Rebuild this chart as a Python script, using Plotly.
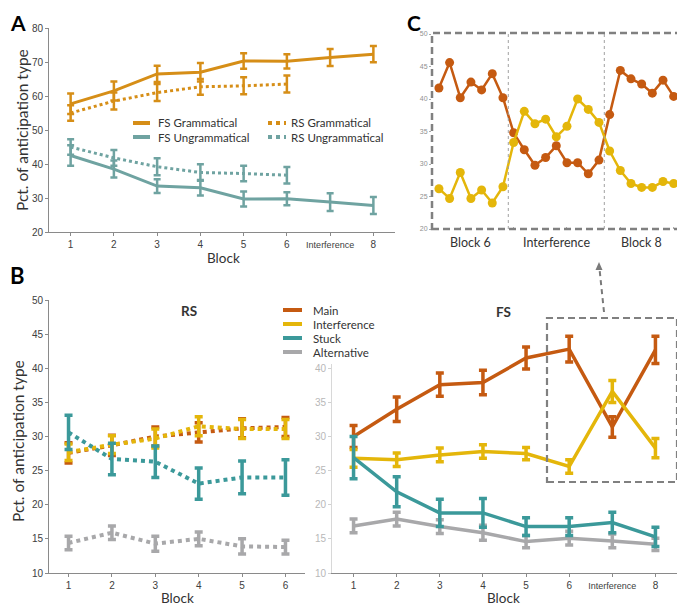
import plotly.graph_objects as go

# Page is 685x610; the html body has an 8px margin, so the figure itself
# is drawn 8px in from the top-left corner of the page.
W, H = 685, 610
OFF = 8
FW, FH = W - OFF, H - OFF


def px(x):
    return (x - OFF) / FW


def py(y):
    return 1 - (y - OFF) / FH


# ---------------- DATA ----------------
# Panel A
a_blocks = ["1", "2", "3", "4", "5", "6", "Interference", "8"]
a_rs_blocks = ["1", "2", "3", "4", "5", "6"]
a_series_names = ["FS Grammatical", "FS Ungrammatical", "RS Grammatical", "RS Ungrammatical"]
a_fs_gram = [57.7, 61.5, 66.5, 67.0, 70.3, 70.2, 71.3, 72.3]
a_fs_gram_err = [3.0, 2.8, 2.4, 2.7, 2.3, 2.1, 2.5, 2.4]
a_fs_ungram = [42.5, 38.5, 33.5, 33.0, 29.7, 29.8, 28.8, 27.8]
a_fs_ungram_err = [3.0, 2.5, 2.0, 2.3, 2.2, 1.9, 2.6, 2.5]
a_rs_gram = [55.0, 58.5, 61.0, 62.7, 63.0, 63.5]
a_rs_gram_err = [2.3, 2.5, 2.5, 2.3, 2.5, 2.5]
a_rs_ungram = [45.0, 41.8, 39.2, 37.5, 37.2, 36.7]
a_rs_ungram_err = [2.3, 2.3, 2.5, 2.4, 2.3, 2.4]
a_yticks = [20, 30, 40, 50, 60, 70, 80]

# Panel B
b_types = ["Main", "Interference", "Stuck", "Alternative"]
rs_blocks = ["1", "2", "3", "4", "5", "6"]
fs_blocks = ["1", "2", "3", "4", "5", "6", "Interference", "8"]

rs_main = [27.6, 28.7, 30.0, 30.6, 31.2, 31.4]
rs_main_err = [1.5, 1.5, 1.4, 1.4, 1.4, 1.4]
rs_interf = [27.7, 28.8, 29.7, 31.5, 31.1, 31.1]
rs_interf_err = [1.2, 1.3, 1.4, 1.4, 1.4, 1.4]
rs_stuck = [30.6, 26.7, 26.3, 23.1, 24.0, 24.0]
rs_stuck_err = [2.5, 2.3, 2.3, 2.3, 2.4, 2.6]
rs_alt = [14.4, 15.9, 14.3, 15.0, 13.9, 13.8]
rs_alt_err = [1.0, 1.0, 1.1, 1.0, 1.1, 1.0]

fs_main = [30.0, 34.0, 37.6, 37.9, 41.5, 42.8, 31.4, 42.7]
fs_main_err = [1.6, 1.8, 1.7, 1.8, 1.6, 1.9, 1.5, 2.0]
fs_interf = [26.8, 26.6, 27.3, 27.8, 27.5, 25.6, 36.6, 28.3]
fs_interf_err = [1.3, 1.0, 1.0, 1.0, 0.9, 1.0, 1.6, 1.4]
fs_stuck = [26.9, 21.9, 18.8, 18.8, 16.8, 16.8, 17.4, 15.3]
fs_stuck_err = [3.1, 2.2, 2.0, 2.1, 1.3, 1.3, 1.5, 1.4]
fs_alt = [16.9, 17.9, 16.8, 15.9, 14.6, 15.1, 14.7, 14.2]
fs_alt_err = [1.0, 1.0, 1.0, 1.1, 0.9, 1.0, 1.0, 0.9]
b_yticks = [10, 15, 20, 25, 30, 35, 40, 45, 50]
fs_yticks_visible = [10, 15, 20, 25, 30, 35, 40]

# Panel C
c_segments = ["Block 6", "Interference", "Block 8"]
c_segment_sizes = [7, 9, 7]
c_main = [41.7, 45.6, 40.2, 42.6, 41.4, 43.9, 40.2,
          34.8, 32.2, 29.8, 31.0, 32.8, 30.2, 30.2, 28.5, 30.6,
          37.6, 44.4, 43.1, 42.3, 40.9, 42.9, 40.4]
c_interf = [26.2, 24.7, 28.7, 24.7, 26.0, 24.0, 26.5,
            33.3, 38.1, 36.2, 36.9, 34.2, 35.8, 40.0, 38.4, 36.4,
            32.0, 29.0, 27.0, 26.4, 26.4, 27.3, 27.0]
c_yticks = [20, 25, 30, 35, 40, 45, 50]
c_xticks = [3, 8, 13, 18, 23]

# ---------------- STYLE ----------------
ORANGE_A = "#D68E17"
TEAL_A = "#6FA3A1"
COL_MAIN = "#C55A11"
COL_INT = "#E4B60A"
COL_STUCK = "#3B999A"
COL_ALT = "#A8A8AA"
AXC = "#8A8A8A"
TICKC = "#404040"
TXT = "#333333"
LBL_FONT = "Lato"
TICK_FONT = "Liberation Sans"

fig = go.Figure()


def add_series(x, y, err, color, dash, width, xa, ya, thick=2.5, cap=3.5):
    fig.add_trace(go.Scatter(
        x=x, y=y, mode="lines",
        line=dict(color=color, width=width, dash=dash),
        error_y=dict(type="data", array=err, color=color, thickness=thick, width=cap),
        xaxis=xa, yaxis=ya, showlegend=False, cliponaxis=False,
    ))


# Panel A traces
add_series(a_rs_blocks, a_rs_gram, a_rs_gram_err, ORANGE_A, "dot", 3, "x", "y")
add_series(a_rs_blocks, a_rs_ungram, a_rs_ungram_err, TEAL_A, "dot", 3, "x", "y")
add_series(a_blocks, a_fs_gram, a_fs_gram_err, ORANGE_A, "solid", 3, "x", "y")
add_series(a_blocks, a_fs_ungram, a_fs_ungram_err, TEAL_A, "solid", 3, "x", "y")

# Panel B - RS (dotted)
add_series(rs_blocks, rs_alt, rs_alt_err, COL_ALT, "dot", 4, "x2", "y2", 3.5, 4)
add_series(rs_blocks, rs_main, rs_main_err, COL_MAIN, "dot", 4, "x2", "y2", 3.5, 4)
add_series(rs_blocks, rs_interf, rs_interf_err, COL_INT, "dot", 4, "x2", "y2", 3.5, 4)
add_series(rs_blocks, rs_stuck, rs_stuck_err, COL_STUCK, "dot", 4, "x2", "y2", 3.5, 4)

# Panel B - FS (solid)
add_series(fs_blocks, fs_alt, fs_alt_err, COL_ALT, "solid", 3.5, "x3", "y3", 3.5, 4)
add_series(fs_blocks, fs_main, fs_main_err, COL_MAIN, "solid", 3.5, "x3", "y3", 3.5, 4)
add_series(fs_blocks, fs_interf, fs_interf_err, COL_INT, "solid", 3.5, "x3", "y3", 3.5, 4)
add_series(fs_blocks, fs_stuck, fs_stuck_err, COL_STUCK, "solid", 3.5, "x3", "y3", 3.5, 4)

# Panel C
c_x = list(range(1, len(c_main) + 1))
for vals, col in [(c_main, COL_MAIN), (c_interf, COL_INT)]:
    fig.add_trace(go.Scatter(
        x=c_x, y=vals, mode="lines+markers",
        line=dict(color=col, width=2.5),
        marker=dict(color=col, size=9),
        xaxis="x4", yaxis="y4", showlegend=False, cliponaxis=False,
    ))


def tick_text(cats):
    return ["<span style='font-size:9px'>%s</span>" % c if not c.isdigit() else c for c in cats]


common_axis = dict(showgrid=False, zeroline=False, showline=True, linecolor=AXC, linewidth=1,
                   ticks="outside", ticklen=3, tickcolor=AXC, automargin=False,
                   tickfont=dict(family=TICK_FONT, size=10, color=TICKC))

layout_axes = dict(
    xaxis=dict(common_axis, domain=[px(49), px(395)], anchor="y", type="category",
               categoryorder="array", categoryarray=a_blocks,
               tickvals=a_blocks, ticktext=tick_text(a_blocks), range=[-0.5, 7.5]),
    yaxis=dict(common_axis, domain=[py(232), py(28)], anchor="x", range=[20, 80],
               tickvals=a_yticks),
    xaxis2=dict(common_axis, domain=[px(49), px(305)], anchor="y2", type="category",
                categoryorder="array", categoryarray=rs_blocks, range=[-0.45, 5.45]),
    yaxis2=dict(common_axis, domain=[py(573), py(300)], anchor="x2", range=[10, 50],
                tickvals=b_yticks),
    xaxis3=dict(common_axis, domain=[px(332), px(677)], anchor="y3", type="category",
                categoryorder="array", categoryarray=fs_blocks,
                tickvals=fs_blocks, ticktext=tick_text(fs_blocks), range=[-0.5, 7.5]),
    yaxis3=dict(common_axis, domain=[py(573), py(300)], anchor="x3", range=[10, 50],
                tickvals=fs_yticks_visible, linecolor="#D8D8D8", tickcolor="#D0D0D0",
                tickfont=dict(family=TICK_FONT, size=10, color="#B8B8B8")),
    xaxis4=dict(domain=[px(432), px(679)], anchor="y4", range=[0.35, 23.5], automargin=False,
                showgrid=False, zeroline=False, showline=False, showticklabels=False,
                ticks="inside", ticklen=2, tickcolor="#AAAAAA", tickvals=c_xticks),
    yaxis4=dict(domain=[py(229), py(34)], anchor="x4", range=[20, 50], automargin=False,
                showgrid=False, zeroline=False, showline=False, tickvals=c_yticks,
                ticks="outside", ticklen=2, tickcolor="#AAAAAA",
                tickfont=dict(family=TICK_FONT, size=7, color="#909090")),
)

shapes = []
annotations = []

# white background behind the panel B legend (hides top of FS y axis)
shapes.append(dict(type="rect", xref="paper", yref="paper", x0=px(278), x1=px(350),
                   y0=py(364), y1=py(298), fillcolor="white", line=dict(width=0), layer="above"))

LEG_SIZE = 11.5


def legend_text(name, x, y):
    annotations.append(dict(text=name, x=px(x), y=py(y), xref="paper", yref="paper",
                            xanchor="left", yanchor="middle", showarrow=False, borderpad=0,
                            font=dict(family=LBL_FONT, size=LEG_SIZE, color=TXT)))


# Panel A legend
a_leg = [
    (a_series_names[0], ORANGE_A, "solid", 133, 150, 157, 123),
    (a_series_names[1], TEAL_A, "solid", 133, 150, 157, 137),
    (a_series_names[2], ORANGE_A, "dot", 268, 286, 290, 123),
    (a_series_names[3], TEAL_A, "dot", 268, 286, 290, 137),
]
for name, col, dash, x0, x1, tx, yy in a_leg:
    shapes.append(dict(type="line", xref="paper", yref="paper", x0=px(x0), x1=px(x1),
                       y0=py(yy), y1=py(yy), line=dict(color=col, width=4, dash=dash), layer="above"))
    legend_text(name, tx, yy)

# Panel B legend
b_cols = [COL_MAIN, COL_INT, COL_STUCK, COL_ALT]
for i, (name, col) in enumerate(zip(b_types, b_cols)):
    yy = 310 + i * 14
    shapes.append(dict(type="line", xref="paper", yref="paper", x0=px(283), x1=px(302),
                       y0=py(yy), y1=py(yy), line=dict(color=col, width=4), layer="above"))
    legend_text(name, 312, yy)

# Panel C separators and labels
cum = 0
for seg, size in zip(c_segments, c_segment_sizes):
    center = cum + (size + 1) / 2
    annotations.append(dict(text=seg, x=center, y=py(242), xref="x4", yref="paper",
                            xanchor="center", yanchor="middle", showarrow=False,
                            font=dict(family=LBL_FONT, size=12.5, color=TXT)))
    cum += size
    if cum < len(c_main):
        shapes.append(dict(type="line", xref="x4", yref="paper", x0=cum + 0.5, x1=cum + 0.5,
                           y0=py(229), y1=py(33), line=dict(color="#A0A0A0", width=1, dash="dot")))

# dashed boxes
shapes.append(dict(type="rect", xref="paper", yref="paper", x0=px(432), x1=px(679),
                   y0=py(229), y1=py(33), line=dict(color="#808080", width=2.5, dash="7px,4px")))
shapes.append(dict(type="rect", xref="paper", yref="paper", x0=px(547), x1=px(677),
                   y0=py(482), y1=py(318), line=dict(color="#808080", width=2.2, dash="7px,4px")))
# dashed arrow from B box to C
shapes.append(dict(type="line", xref="paper", yref="paper", x0=px(604), x1=px(599.5),
                   y0=py(312), y1=py(269), line=dict(color="#7A7A7A", width=2, dash="5px,4px")))
shapes.append(dict(type="path", xref="paper", yref="paper",
                   path="M %f,%f L %f,%f L %f,%f Z" % (px(599), py(262), px(595.5), py(270), px(602.5), py(270)),
                   fillcolor="#7A7A7A", line=dict(width=0)))


def ann(text, x, y, size, bold=False, angle=0, xanchor="center", yanchor="middle",
        family=LBL_FONT, color=TXT):
    annotations.append(dict(text="<b>%s</b>" % text if bold else text, x=px(x), y=py(y),
                            xref="paper", yref="paper", xanchor=xanchor, yanchor=yanchor,
                            showarrow=False, textangle=angle, borderpad=0,
                            font=dict(family=family, size=size, color=color)))


ann("A", 9, 8.5, 21, bold=True, xanchor="left", yanchor="top", color="#000000")
ann("B", 9, 275, 22, bold=True, xanchor="left", color="#000000")
ann("C", 406, 8.5, 21, bold=True, xanchor="left", yanchor="top", color="#000000")
ann("Block", 223, 258, 13.5)
ann("Block", 177, 598, 13.5)
ann("Block", 504, 598, 13.5)
ann("RS", 189, 311, 13.5, bold=True)
ann("FS", 503, 312, 13.5, bold=True)
ann("Pct. of anticipation type", 22, 130, 15.5, angle=-90)
ann("Pct. of anticipation type", 18, 441, 15.5, angle=-90)

fig.update_layout(
    width=FW, height=FH,
    margin=dict(l=0, r=0, t=0, b=0, pad=0, autoexpand=False),
    paper_bgcolor="white", plot_bgcolor="white",
    showlegend=False,
    shapes=shapes, annotations=annotations,
    **layout_axes,
)

fig.write_html("out.html")
